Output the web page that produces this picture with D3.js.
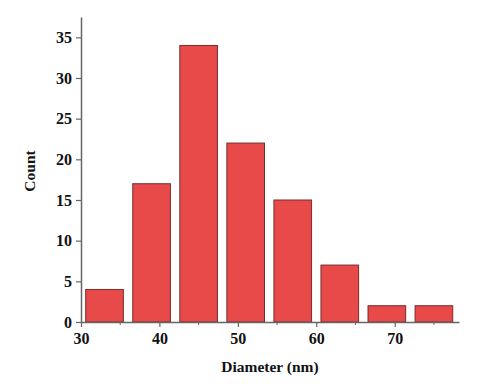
<!DOCTYPE html>
<html><head><meta charset="utf-8">
<script src="https://cdn.jsdelivr.net/npm/d3@7"></script>
<style>body{margin:0;background:#fff}svg{display:block}</style>
</head><body>
<script>
const binCenters = [33, 39, 45, 51, 57, 63, 69, 75];
const counts = [4, 17, 34, 22, 15, 7, 2, 2];
const xTicks = [30, 40, 50, 60, 70];
const xMinorTicks = [35, 45, 55, 65, 75];
const yTicks = [0, 5, 10, 15, 20, 25, 30, 35];
const binWidth = 4.8;

const W = 500, H = 392;
const svg = d3.select("body").append("svg").attr("width", W).attr("height", H);
const x = d3.scaleLinear().domain([30, 78.2]).range([81, 459]);
const y = d3.scaleLinear().domain([0, 37.5]).range([322, 17]);
const font = "'Liberation Serif','Times New Roman',serif";

svg.append("g").selectAll("rect").data(counts).join("rect")
  .attr("x", (d, i) => x(binCenters[i] - binWidth / 2))
  .attr("width", (d, i) => x(binCenters[i] + binWidth / 2) - x(binCenters[i] - binWidth / 2))
  .attr("y", d => y(d))
  .attr("height", d => y(0) - y(d))
  .attr("fill", "#e84a4a").attr("stroke", "#7a2b2b").attr("stroke-width", 1);

const axisColor = "#666";
const gx = svg.append("g").attr("transform", `translate(0,${y(0)})`)
  .call(d3.axisBottom(x).tickValues(xTicks).tickSize(5).tickSizeOuter(0).tickPadding(6).tickFormat(d3.format("d")));
gx.append("g").selectAll("line").data(xMinorTicks).join("line")
  .attr("x1", d => x(d)).attr("x2", d => x(d)).attr("y1", 0).attr("y2", 3).attr("stroke", axisColor);
const gy = svg.append("g").attr("transform", `translate(${x(30)},0)`)
  .call(d3.axisLeft(y).tickValues(yTicks).tickSize(5).tickSizeOuter(0).tickPadding(4).tickFormat(d3.format("d")));
[gx, gy].forEach(g => {
  g.select(".domain").attr("stroke", axisColor).attr("stroke-width", 1.5);
  g.selectAll(".tick line").attr("stroke", axisColor).attr("stroke-width", 1.2);
  g.selectAll("text").attr("font-family", font).attr("font-weight", "bold").attr("font-size", 16).attr("fill", "#111");
});

svg.append("text").attr("x", 270).attr("y", 372).attr("text-anchor", "middle")
  .attr("font-family", font).attr("font-weight", "bold").attr("font-size", 15.5).attr("fill", "#111")
  .text("Diameter (nm)");
svg.append("text").attr("transform", "translate(35,171) rotate(-90)").attr("text-anchor", "middle")
  .attr("font-family", font).attr("font-weight", "bold").attr("font-size", 15.5).attr("fill", "#111")
  .text("Count");
</script>
</body></html>
